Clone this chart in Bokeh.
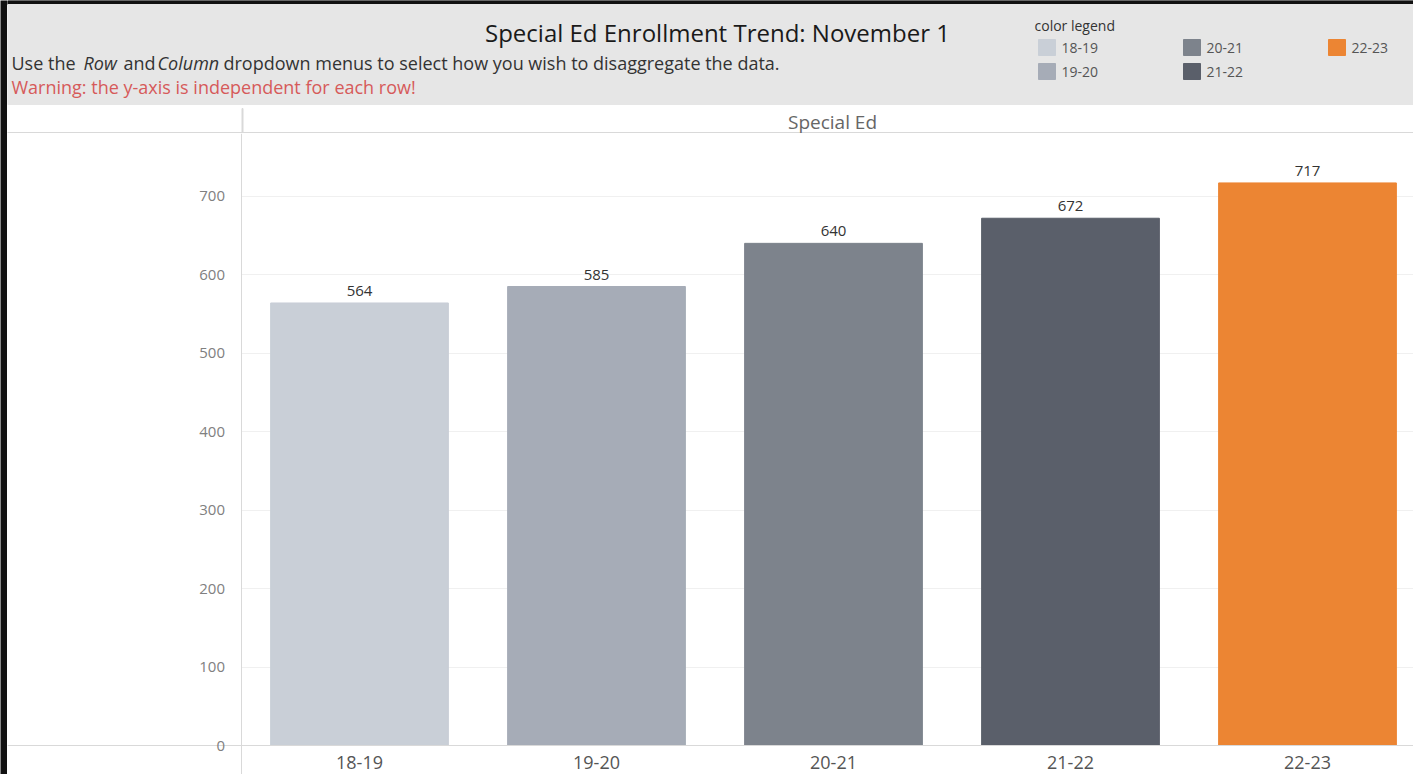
from bokeh.plotting import figure
from bokeh.layouts import row, column
from bokeh.models import ColumnDataSource, Range1d, FixedTicker
from bokeh.core.properties import value
from bokeh.embed import file_html
from bokeh.resources import INLINE

# ---- data ----
years = ["18-19", "19-20", "20-21", "21-22", "22-23"]
enrollment = [564, 585, 640, 672, 717]
colors = ["#c9cfd7", "#a6acb7", "#7d838c", "#5a5f6a", "#ec8533"]
y_ticks = [0, 100, 200, 300, 400, 500, 600, 700]
title_text = "Special Ed Enrollment Trend: November 1"
column_header = "Special Ed"
legend_title = "color legend"
subtitle_parts = ["Use the ", "Row", "and", "Column",
                  "dropdown menus to select how you wish to disaggregate the data."]
subtitle_styles = ["normal", "italic", "normal", "italic", "normal"]
warning_text = "Warning: the y-axis is independent for each row!"

W, H = 1413, 774
STRIP = 7          # black left border
HEAD_H = 133       # header (title band + column header row)
FONT = "Open Sans"
GRID = "#d9d9d9"

# ---------------- black left strip ----------------
strip = figure(width=STRIP, height=H, output_backend="svg", toolbar_location=None,
               min_border=0, x_range=Range1d(0, 1), y_range=Range1d(0, 1))
strip.axis.visible = False
strip.grid.visible = False
strip.outline_line_color = None
strip.background_fill_color = "#111111"
strip.border_fill_color = "#111111"

# ---------------- header ----------------
hw = W - STRIP
head = figure(width=hw, height=HEAD_H, output_backend="svg", toolbar_location=None,
              min_border=0, x_range=Range1d(STRIP, W), y_range=Range1d(HEAD_H, 0))
head.axis.visible = False
head.grid.visible = False
head.outline_line_color = None
head.background_fill_color = "white"
head.border_fill_color = "white"

head.quad(left=[STRIP], right=[W], top=[0], bottom=[4], color="#111111")
head.quad(left=[STRIP], right=[W], top=[4], bottom=[104], color="#e6e6e6")
head.quad(left=[STRIP], right=[W], top=[132], bottom=[133], color=GRID)
head.quad(left=[241.5], right=[242.5], top=[108], bottom=[133], color=GRID)

def htext(x, y, txt, size, color, align="left", style="normal"):
    head.text(x=[x], y=[y], text=[txt], text_font=value(FONT), text_font_size=size,
              text_color=color, text_align=align, text_baseline="middle",
              text_font_style=style)

htext(717, 32, title_text, "24px", "#1a1a1a", align="center")
sub_x = [11, 83, 123, 157, 223]
for xx, part, st in zip(sub_x, subtitle_parts, subtitle_styles):
    htext(xx, 62, part, "18px", "#333333", style=st)
htext(11, 86, warning_text, "18px", "#d65a5a")
htext(832, 121, column_header, "19px", "#666666", align="center")

# color legend
htext(1034, 25, legend_title, "14px", "#333333")
lx = [1038 + (i // 2) * 145 for i in range(len(years))]
ly = [39 + (i % 2) * 24 for i in range(len(years))]
head.quad(left=lx, right=[x + 17 for x in lx], top=ly, bottom=[y + 16 for y in ly],
          color=colors)
head.text(x=[x + 23 for x in lx], y=[y + 8 for y in ly], text=years,
          text_font=value(FONT), text_font_size="14px", text_color="#555555",
          text_baseline="middle")

# ---------------- main chart ----------------
MH = H - HEAD_H
band = 237.0
first_center = 359.0          # canvas x of first bar centre
px_per_unit = 612 / 780.0
x0 = -(first_center - STRIP) / band
x1 = (W - first_center) / band
y0 = -(H - 745) / px_per_unit

p = figure(width=hw, height=MH, output_backend="svg", toolbar_location=None,
           min_border=0, x_range=Range1d(x0, x1), y_range=Range1d(y0, 780))
p.outline_line_color = None
p.background_fill_color = "white"
p.border_fill_color = "white"

idx = list(range(len(years)))
# hide grid lines left of the y-axis
p.quad(left=[x0], right=[-0.5], bottom=[y0], top=[780], color="white")

src = ColumnDataSource(dict(x=idx, top=enrollment, color=colors,
                            label=[str(v) for v in enrollment]))
p.vbar(x="x", top="top", width=0.75, color="color", source=src)
p.text(x="x", y="top", text="label", source=src, y_offset=-7,
       text_align="center", text_baseline="bottom",
       text_font=value(FONT), text_font_size="15px", text_color="#333333")

p.xaxis.fixed_location = 0
p.xaxis.ticker = FixedTicker(ticks=idx)
p.xaxis.major_label_overrides = {i: y for i, y in enumerate(years)}
p.xaxis.major_tick_line_color = None
p.xaxis.minor_tick_line_color = None
p.xaxis.axis_line_color = GRID
p.xaxis.major_label_text_font = FONT
p.xaxis.major_label_text_font_size = "18px"
p.xaxis.major_label_text_color = "#555555"
p.xaxis.major_label_standoff = 4

p.yaxis.fixed_location = -0.5
p.yaxis.ticker = FixedTicker(ticks=y_ticks)
p.yaxis.major_tick_line_color = None
p.yaxis.minor_tick_line_color = None
p.yaxis.axis_line_color = GRID
p.yaxis.major_label_text_font = FONT
p.yaxis.major_label_text_font_size = "15px"
p.yaxis.major_label_text_color = "#808080"
p.yaxis.major_label_standoff = 10

p.xgrid.grid_line_color = None
p.ygrid.grid_line_color = "#f0f0f0"

layout = row(strip, column(head, p, spacing=0), spacing=0)
open("out.html", "w").write(file_html(layout, INLINE))
